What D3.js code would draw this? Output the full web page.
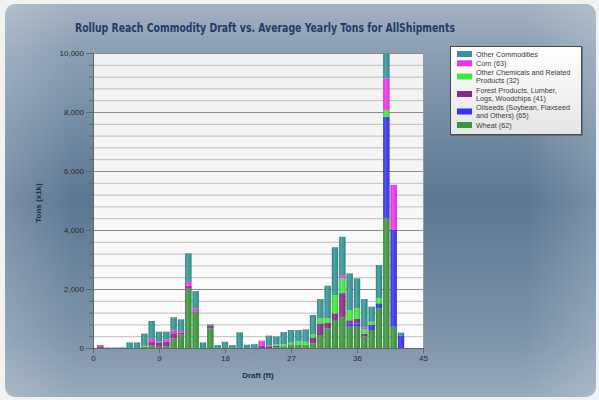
<!DOCTYPE html>
<html><head><meta charset="utf-8">
<script src="https://cdn.jsdelivr.net/npm/d3@7"></script>
<style>html,body{margin:0;padding:0;background:#f2f2f2;}svg{display:block;}</style>
</head><body>
<script>
// ---- data ----
const drafts = [1,2,3,4,5,6,7,8,9,10,11,12,13,14,15,16,17,18,19,20,21,22,23,24,25,26,27,28,29,30,31,32,33,34,35,36,37,38,39,40,41,42];
const wheat    = [0,0,0,0,0,0,40,80,40,60,320,460,2010,1220,0,670,0,0,0,0,0,0,0,0,30,60,80,120,110,160,440,670,950,1030,720,720,400,610,1345,4400,720,0];
const oilseeds = [0,0,0,0,0,0,0,0,0,0,0,0,0,0,0,0,0,0,0,0,0,0,0,0,40,0,0,0,0,0,0,0,0,0,120,110,0,170,170,3440,3280,430];
const forest   = [60,0,0,0,0,0,0,120,150,150,180,60,100,0,0,80,0,0,0,0,0,0,80,60,0,0,40,0,0,200,395,190,225,830,100,170,90,0,0,0,0,0];
const chems    = [0,0,0,0,0,0,30,0,0,0,0,0,0,0,0,0,0,0,0,0,0,0,0,0,50,70,60,110,100,100,170,150,620,500,340,340,150,110,170,230,0,0];
const corn     = [40,0,0,0,0,0,0,110,30,80,100,60,130,110,0,0,0,0,0,0,0,0,150,30,0,0,0,0,0,0,0,0,0,110,0,0,60,0,0,1070,1530,0];
const other    = [0,15,15,20,190,190,420,605,335,265,440,390,970,600,190,50,100,210,100,530,110,130,20,330,270,410,430,380,420,660,655,1100,1620,1300,1250,1020,960,510,1130,850,0,90];
const seriesKeys   = ["wheat","oilseeds","forest","chems","corn","other"];
const legendLabels = [
  ["Other Commodities"],
  ["Corn (63)"],
  ["Other Chemicals and Related","Products (32)"],
  ["Forest Products, Lumber,","Logs, Woodchips (41)"],
  ["Oilseeds (Soybean, Flaxseed","and Others) (65)"],
  ["Wheat (62)"]
];
const legendKeys = ["other","corn","chems","forest","oilseeds","wheat"];
const yTicks = [0,2000,4000,6000,8000,10000];
const xTicks = [0,9,18,27,36,45];
const titleText = "Rollup Reach Commodity Draft vs. Average Yearly Tons for AllShipments";

const colors = {other:"#339595", corn:"#f030f0", chems:"#3cec3c", forest:"#862a86", oilseeds:"#3434ee", wheat:"#3a963a"};

const table = drafts.map((d,i)=>({draft:d, wheat:wheat[i], oilseeds:oilseeds[i], forest:forest[i], chems:chems[i], corn:corn[i], other:other[i]}));

const W=599,H=400;
const svg = d3.select("body").append("svg").attr("width",W).attr("height",H);
const defs = svg.append("defs");

const pg = defs.append("linearGradient").attr("id","panel").attr("x1",0).attr("y1",0).attr("x2",0).attr("y2",1);
[[0,"#a2b2c2"],[0.12,"#8b9fb3"],[0.5,"#5b7793"],[0.85,"#7e94aa"],[1,"#98aabb"]].forEach(s=>pg.append("stop").attr("offset",s[0]).attr("stop-color",s[1]));
const ph = defs.append("linearGradient").attr("id","panelh").attr("x1",0).attr("y1",0).attr("x2",1).attr("y2",0);
[[0,0.18],[0.12,0],[0.88,0],[1,0.18]].forEach(s=>ph.append("stop").attr("offset",s[0]).attr("stop-color","#ffffff").attr("stop-opacity",s[1]));
const plg = defs.append("linearGradient").attr("id","plotbg").attr("x1",0).attr("y1",0).attr("x2",0).attr("y2",1);
[[0,"#f1f1f1"],[1,"#fdfdfd"]].forEach(s=>plg.append("stop").attr("offset",s[0]).attr("stop-color",s[1]));
const bg = defs.append("linearGradient").attr("id","barsh").attr("x1",0).attr("y1",0).attr("x2",1).attr("y2",0);
[[0,"#000",0.18],[0.35,"#fff",0.18],[0.6,"#fff",0.05],[1,"#000",0.22]].forEach(s=>bg.append("stop").attr("offset",s[0]).attr("stop-color",s[1]).attr("stop-opacity",s[2]));
const lg = defs.append("linearGradient").attr("id","legbg").attr("x1",0).attr("y1",0).attr("x2",0).attr("y2",1);
[[0,"#ffffff"],[1,"#e6e6e6"]].forEach(s=>lg.append("stop").attr("offset",s[0]).attr("stop-color",s[1]));

// panel
svg.append("rect").attr("x",5).attr("y",4).attr("width",591).attr("height",393).attr("rx",10).attr("fill","url(#panel)");
svg.append("rect").attr("x",5).attr("y",4).attr("width",591).attr("height",393).attr("rx",10).attr("fill","url(#panelh)");

// title
svg.append("text").attr("x",265).attr("y",32).attr("text-anchor","middle")
  .attr("font-family","'DejaVu Sans', sans-serif").attr("font-weight","bold").attr("font-size",12.5)
  .attr("fill","#1f3d66").attr("textLength",380).attr("lengthAdjust","spacingAndGlyphs").text(titleText);

const m = {l:93, r:423, t:53, b:348};
const x = d3.scaleLinear().domain([0,45]).range([m.l,m.r]);
const y = d3.scaleLinear().domain([0,10000]).range([m.b,m.t]);

svg.append("rect").attr("x",m.l).attr("y",m.t).attr("width",m.r-m.l).attr("height",m.b-m.t).attr("fill","url(#plotbg)");

// grid
const minor = d3.range(0,10001,400);
svg.append("g").selectAll("line").data(minor).join("line")
  .attr("x1",m.l).attr("x2",m.r).attr("y1",d=>y(d)+0.5).attr("y2",d=>y(d)+0.5)
  .attr("stroke",d=>d%2000===0?"#8c8c8c":"#bdbdbd").attr("stroke-width",1);
svg.append("line").attr("x1",m.r+0.5).attr("x2",m.r+0.5).attr("y1",m.t).attr("y2",m.b).attr("stroke","#9a9a9a");

// bars
const stack = d3.stack().keys(seriesKeys)(table);
const bw = (x(1)-x(0))*0.86;
const gBars = svg.append("g");
stack.forEach(layer=>{
  gBars.append("g").attr("fill",colors[layer.key]).selectAll("rect").data(layer).join("rect")
    .attr("x",d=>x(d.data.draft)-bw/2).attr("width",bw)
    .attr("y",d=>y(d[1])).attr("height",d=>Math.max(0,y(d[0])-y(d[1])));
});
gBars.append("g").selectAll("rect").data(table).join("rect")
  .attr("x",d=>x(d.draft)-bw/2).attr("width",bw)
  .attr("y",d=>y(d3.sum(seriesKeys,k=>d[k]))).attr("height",d=>m.b-y(d3.sum(seriesKeys,k=>d[k])))
  .attr("fill","url(#barsh)");

// axes
const yAxis = d3.axisLeft(y).tickValues(yTicks).tickFormat(d3.format(",")).tickSize(7).tickPadding(2);
const ga = svg.append("g").attr("transform",`translate(${m.l},0)`).call(yAxis);
svg.append("g").selectAll("line").data(minor.filter(d=>d%2000!==0)).join("line")
  .attr("x1",m.l-4).attr("x2",m.l).attr("y1",d=>y(d)+0.5).attr("y2",d=>y(d)+0.5).attr("stroke","#666");
const xAxis = d3.axisBottom(x).tickValues(xTicks).tickSize(5).tickPadding(2);
const gx = svg.append("g").attr("transform",`translate(0,${m.b})`).call(xAxis);
[ga,gx].forEach(g=>{
  g.selectAll("path").attr("stroke","#666");
  g.selectAll("line").attr("stroke","#666");
  g.selectAll("text").attr("font-family","'Liberation Sans', Arial, sans-serif").attr("font-size",8).attr("fill","#2a2a2a");
});

// axis titles
svg.append("text").attr("x",m.l+(m.r-m.l)/2).attr("y",378).attr("text-anchor","middle")
  .attr("font-family","'Liberation Sans', Arial, sans-serif").attr("font-weight","bold").attr("font-size",8).attr("fill","#1c2e48").text("Draft (ft)");
svg.append("text").attr("transform","translate(41,203) rotate(-90)").attr("text-anchor","middle")
  .attr("font-family","'Liberation Sans', Arial, sans-serif").attr("font-weight","bold").attr("font-size",8).attr("fill","#1c2e48").text("Tons (x1k)");

// legend
svg.append("rect").attr("x",451).attr("y",47).attr("width",132).attr("height",89).attr("fill","#3e5266").attr("opacity",0.5);
svg.append("rect").attr("x",450.5).attr("y",46.5).attr("width",131).attr("height",88).attr("fill","url(#legbg)").attr("stroke","#4a4a4a");
const rows = [54,63.3,76.5,94,111.5,125];
legendKeys.forEach((k,i)=>{
  const lines = legendLabels[i];
  svg.append("rect").attr("x",457).attr("y",rows[i]-3).attr("width",15).attr("height",6).attr("fill",colors[k]);
  const t = svg.append("text").attr("font-family","'Liberation Sans', Arial, sans-serif").attr("font-size",7.2).attr("fill","#3a3a3a");
  const y0 = rows[i] - (lines.length-1)*4;
  lines.forEach((ln,j)=>t.append("tspan").attr("x",476).attr("y",y0+j*8+2.5).text(ln));
});
</script>
</body></html>
